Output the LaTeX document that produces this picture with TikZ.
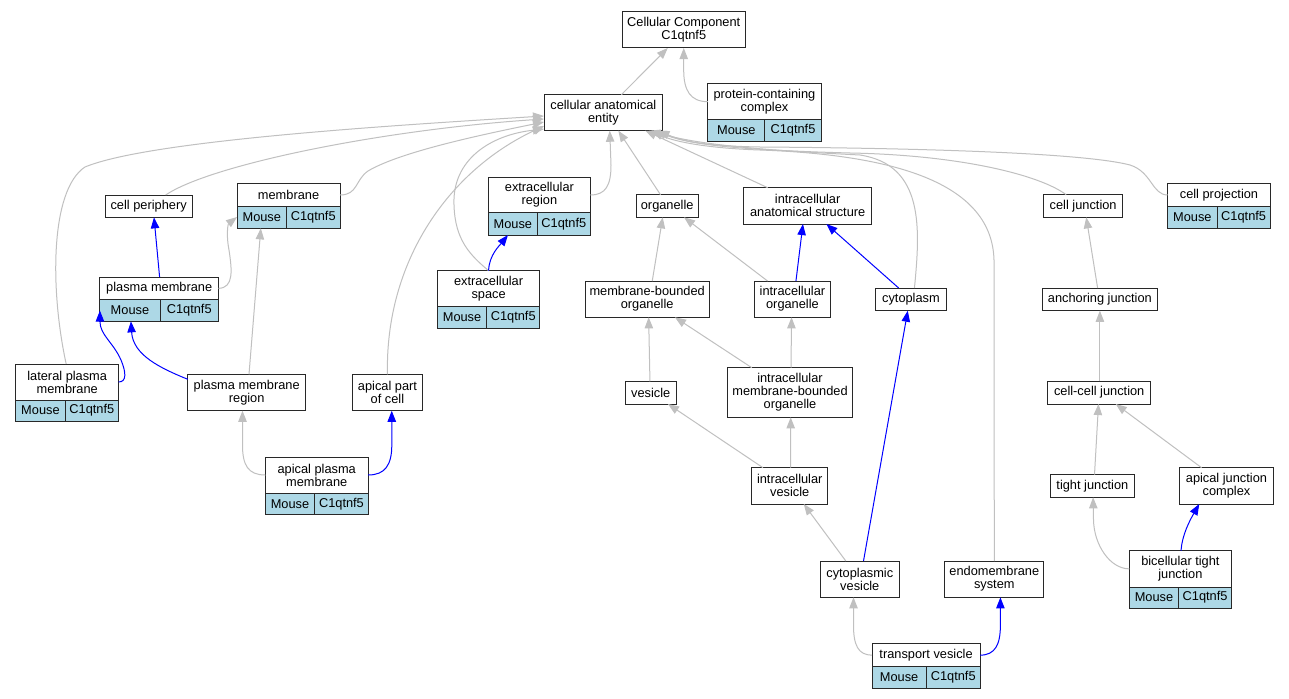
\documentclass[tikz,border=0pt]{standalone}
\usepackage{fontspec}
\setmainfont{Liberation Sans}
\usetikzlibrary{arrows.meta,calc}
\definecolor{edgegray}{RGB}{192,192,192}
\definecolor{cellblue}{RGB}{173,216,230}
\definecolor{boxline}{RGB}{40,40,40}
\tikzset{
 gobox/.style={draw=boxline, fill=white, line width=0.75pt, inner sep=0pt, outer sep=0pt, align=center, font=\fontsize{9.6}{9.75}\selectfont},
 gocell/.style={gobox, fill=cellblue},
 gedge/.style={draw=edgegray, line width=0.75pt, -{Triangle[length=8.3pt,width=6.3pt]}},
 bedge/.style={draw=blue, line width=0.75pt, -{Triangle[length=8.3pt,width=6.3pt]}},
}
\newcommand{\GOnode}[6]{\node[gobox, minimum width={(#4-#2)*0.75pt}, minimum height={(#5-#3)*0.75pt}] (#1) at ({(#2+#4)/2},{(#3+#5)/2}) {#6};}
\newcommand{\GOrec}[8]{%
 \GOnode{#1}{#2}{#4}{#3}{#5}{#8}
 \node[gocell, minimum width={(#7-#2)*0.75pt}, minimum height={(#6-#5)*0.75pt}] (#1-m) at ({(#2+#7)/2},{(#5+#6)/2}) {Mouse};
 \node[gocell, minimum width={(#3-#7)*0.75pt}, minimum height={(#6-#5)*0.75pt}] (#1-c) at ({(#7+#3)/2},{(#5+#6)/2}) {C1qtnf5};
}
\begin{document}
\begin{tikzpicture}[x=0.75pt,y=-0.75pt]
\useasboundingbox[fill=white] (0,0) rectangle (1289,699);
% plain nodes: name x1 y1 x2 y2
\GOnode{cc}{622.5}{12}{745}{48}{Cellular Component\\C1qtnf5}
\GOnode{cae}{544}{94.7}{662.7}{130.7}{cellular anatomical\\entity}
\GOnode{cp}{105.3}{195}{192}{217.3}{cell periphery}
\GOnode{org}{636}{194.7}{698.4}{217.3}{organelle}
\GOnode{ias}{743.7}{187.7}{871.6}{224}{intracellular\\anatomical structure}
\GOnode{cj}{1043.8}{194.7}{1122.5}{217.3}{cell junction}
\GOnode{mbo}{585}{281}{709.3}{317.3}{membrane-bounded\\organelle}
\GOnode{io}{754.5}{281}{830.4}{317.3}{intracellular\\organelle}
\GOnode{cyt}{875.7}{288}{946.2}{310.7}{cytoplasm}
\GOnode{aj}{1042.5}{288}{1157.3}{310.7}{anchoring junction}
\GOnode{pmr}{187.8}{374.3}{305.6}{410.7}{plasma membrane\\region}
\GOnode{apc}{352}{374.3}{422.9}{410.7}{apical part\\of cell}
\GOnode{ves}{625.2}{381.3}{676.3}{404}{vesicle}
\GOnode{imbo}{727.8}{367.7}{852.2}{417.3}{intracellular\\membrane-bounded\\organelle}
\GOnode{ccj}{1047.9}{381.3}{1150.5}{404}{cell-cell junction}
\GOnode{iv}{751.8}{467.7}{827.7}{504}{intracellular\\vesicle}
\GOnode{tj}{1050.6}{474.7}{1134.2}{497.3}{tight junction}
\GOnode{ajc}{1179.9}{467.7}{1273}{504}{apical junction\\complex}
\GOnode{cv}{820}{561}{899.6}{597.3}{cytoplasmic\\vesicle}
\GOnode{ems}{944.8}{561}{1043.8}{597.3}{endomembrane\\system}
% records: name x1 x2 y1 ym y2 xd label
\GOrec{pcc}{707.9}{821}{83.7}{119.7}{141.3}{764.9}{protein-containing\\complex}
\GOrec{mem}{237.1}{340}{183.7}{206.3}{228.3}{286.5}{membrane}
\GOrec{er}{488.4}{590.4}{177.3}{212.7}{235}{537.3}{extracellular\\region}
\GOrec{cpj}{1167.7}{1270.3}{183.7}{206.3}{228.3}{1217}{cell projection}
\GOrec{pm}{99.9}{218.5}{277}{299.7}{321.3}{160}{plasma membrane}
\GOrec{es}{437.4}{539.8}{270.7}{306.7}{328}{486.7}{extracellular\\space}
\GOrec{lpm}{15.8}{118.6}{364}{400}{421.3}{65.1}{lateral plasma\\membrane}
\GOrec{apm}{265.3}{368.2}{457}{493}{514.7}{314.7}{apical plasma\\membrane}
\GOrec{btj}{1129.3}{1231.5}{550.7}{587}{608}{1178.6}{bicellular tight\\junction}
\GOrec{tv}{872}{980.1}{643.7}{666.7}{688}{926.3}{transport vesicle}
% edges
\draw[gedge] ($(cae.north)+(18,0)$) -- ($(cc.south)+(-16,0)$);
\draw[gedge] (pcc.west) .. controls (690,101.7) and (683.7,90) .. (683.7,70) -- (cc.south);
\draw[gedge] ($(cp.north)+(17,0)$) .. controls (210,165) and (380,130) .. ($(cae.west)+(0,6.3)$);
\draw[gedge] (mem.east) .. controls (358,195) and (355,180) .. (368,171) .. controls (400,152) and (480,135) .. ($(cae.west)+(0,9.3)$);
\draw[gedge] ($(lpm.north)+(-1,0)$) .. controls (50,290) and (50,190) .. (85,167) .. controls (150,140) and (400,125) .. ($(cae.west)+(0,3.3)$);
\draw[gedge] (pm.east) .. controls (234,288) and (232,270) .. (229,250) .. controls (226,235) and (228,224) .. ($(mem.west)+(0,22)$);
\draw[gedge] ($(pmr.north)+(2.3,0)$) -- ($(mem-m.south)+(-1,0)$);
\draw[bedge] ($(pm.north)+(0.4,0)$) -- ($(cp.south)+(5.35,0)$);
\draw[bedge] (lpm.east) .. controls (127,382) and (126,372) .. (121,360) .. controls (113,342) and (100,335) .. (pm-m.west);
\draw[bedge] ($(pmr.west)+(0,-13.2)$) .. controls (160,368) and (133,355) .. ($(pm-m.south)+(1,0)$);
\draw[gedge] (apm.west) .. controls (248,475) and (242.5,465) .. (242.5,445) -- ($(pmr.south)+(-4.2,0)$);
\draw[bedge] (apm.east) .. controls (385,475) and (391.8,465) .. (391.8,445) -- ($(apc.south)+(4.3,0)$);
\draw[gedge] (apc.north) .. controls (385,260) and (450,170) .. ($(cae.west)+(0,13.3)$);
\draw[gedge] (es.north) .. controls (470,255) and (455,240) .. (454,205) .. controls (452,160) and (490,135) .. ($(cae.west)+(0,16.3)$);
\draw[bedge] (es.north) .. controls (489,255) and (500,245) .. ($(er-m.south)+(-4.9,0)$);
\draw[gedge] (er.east) .. controls (606,195) and (611,185) .. (611,165) -- ($(cae.south)+(6.4,0)$);
\draw[gedge] ($(org.north)+(-6.7,0)$) -- ($(cae.south)+(15,0)$);
\draw[gedge] ($(ias.north)+(-40,0)$) -- ($(cae.south)+(42,0)$);
\draw[gedge] ($(cyt.north)+(3.5,0)$) .. controls (920,230) and (925,165) .. (860,155) .. controls (760,150) and (700,145) .. ($(cae.south)+(46,0)$);
\draw[gedge] (ems.north) -- (994,260) .. controls (992,185) and (900,155) .. (760,150) .. controls (700,148) and (670,140) .. ($(cae.south)+(49,0)$);
\draw[gedge] ($(cj.north)+(-17,0)$) .. controls (1040,175) and (960,155) .. (850,153) .. controls (740,150) and (690,145) .. ($(cae.south)+(52,0)$);
\draw[gedge] (cpj.west) .. controls (1152,195) and (1152,172) .. (1130,165) .. controls (1080,152) and (900,148) .. (760,147) .. controls (700,146) and (680,140) .. ($(cae.south)+(55,0)$);
\draw[gedge] ($(io.north)+(-24.9,0)$) -- ($(org.south)+(16.8,0)$);
\draw[bedge] ($(io.north)+(3.5,0)$) -- ($(ias.south)+(-4.7,0)$);
\draw[gedge] ($(mbo.north)+(5.1,0)$) -- ($(org.south)+(-4.5,0)$);
\draw[bedge] ($(cyt.north)+(-12.3,0)$) -- ($(ias.south)+(18.7,0)$);
\draw[bedge] ($(cv.north)+(3.7,0)$) -- ($(cyt.south)+(-3.2,0)$);
\draw[gedge] ($(aj.north)+(-2.3,0)$) -- ($(cj.south)+(3.1,0)$);
\draw[gedge] ($(ccj.north)+(0.7,0)$) -- (aj.south);
\draw[gedge] ($(ves.north)+(-0.8,0)$) -- ($(mbo.south)+(1.5,0)$);
\draw[gedge] ($(imbo.north)+(-38.2,0)$) -- ($(mbo.south)+(27.8,0)$);
\draw[gedge] ($(imbo.north)+(1,0)$) -- ($(io.south)+(-0.9,0)$);
\draw[gedge] ($(iv.north)+(-26.8,0)$) -- ($(ves.south)+(17.2,0)$);
\draw[gedge] ($(iv.north)+(0.9,0)$) -- ($(imbo.south)+(0.7,0)$);
\draw[gedge] ($(cv.north)+(-14,0)$) -- ($(iv.south)+(14,0)$);
\draw[gedge] (tv.west) .. controls (858,655) and (853.5,645) .. (853.5,625) -- ($(cv.south)+(-6.3,0)$);
\draw[bedge] (tv.east) .. controls (995,655) and (1000.4,645) .. (1000.4,625) -- ($(ems.south)+(6.1,0)$);
\draw[gedge] ($(tj.north)+(2.1,0)$) -- ($(ccj.south)+(-0.7,0)$);
\draw[gedge] ($(ajc.north)+(-24.9,0)$) -- ($(ccj.south)+(16.5,0)$);
\draw[gedge] (btj.west) .. controls (1110,568.85) and (1094,545) .. (1093.5,520) -- ($(tj.south)+(0.7,0)$);
\draw[bedge] ($(btj.north)+(0.6,0)$) .. controls (1182,535) and (1190,520) .. ($(ajc.south)+(-27.2,0)$);
\end{tikzpicture}
\end{document}
